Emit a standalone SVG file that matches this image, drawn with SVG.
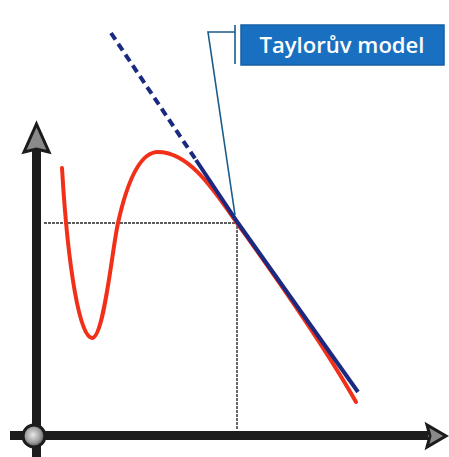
<svg xmlns="http://www.w3.org/2000/svg" width="449" height="457" viewBox="0 0 449 457">
<defs>
<radialGradient id="knob" cx="0.45" cy="0.45" r="0.6">
<stop offset="0" stop-color="#e8e8e8"/>
<stop offset="0.6" stop-color="#9a9a9a"/>
<stop offset="1" stop-color="#3a3a3a"/>
</radialGradient>
<style>
.axis{fill:#1c1c1c}
.head{fill:#8a8a8a;stroke:#1c1c1c;stroke-width:3;stroke-linejoin:miter}
.guide{fill:none;stroke:#2a2a2a;stroke-width:1.4;stroke-dasharray:3 1}
.curve{fill:none;stroke:#f2301a;stroke-width:4;stroke-linecap:round}
.tangent{fill:none;stroke:#1a2a80;stroke-width:4}
.leader{fill:none;stroke:#1a5c8c;stroke-width:1.6}
.label{font-family:"Open Sans","Liberation Sans",sans-serif;font-size:21.5px;font-weight:600;fill:#ffffff}
</style>
</defs>
<rect width="449" height="457" fill="#ffffff"/>
<g id="guides">
<path class="guide" d="M44,223 H237 V430"/>
</g>
<g id="axes">
<rect class="axis" x="32" y="148" width="9" height="309"/>
<path class="head" d="M36.5,124 L49,152 L36.5,149 L24,152 Z"/>
<rect class="axis" x="10" y="431" width="418" height="9"/>
<path class="head" d="M446,436 L427,447 L430,436 L427,425 Z"/>
<circle cx="34" cy="436" r="11" fill="url(#knob)" stroke="#1c1c1c" stroke-width="3"/>
</g>
<g id="function">
<path class="curve" d="M62,168 C68,270 80,338 92,338 C104,338 112,250 118,223 C124,196 136,152 158,152 C190,152 215,192 237,223 C262,258 318,335 356,402"/>
</g>
<g id="connectors">
<path class="tangent" d="M111,33 L196,160" stroke-dasharray="8 5"/>
<path class="tangent" d="M196,160 L238,223 L358,392"/>
<path class="leader" d="M235,215 L208,32 H235 M235,25 V64"/>
</g>
<g id="taylor-model">
<rect x="241" y="25" width="203" height="40" fill="#1a70c0" stroke="#165fa6" stroke-width="1.5"/>
<text class="label" x="342" y="53" text-anchor="middle" textLength="165" lengthAdjust="spacingAndGlyphs">Taylorův model</text>
</g>
</svg>
